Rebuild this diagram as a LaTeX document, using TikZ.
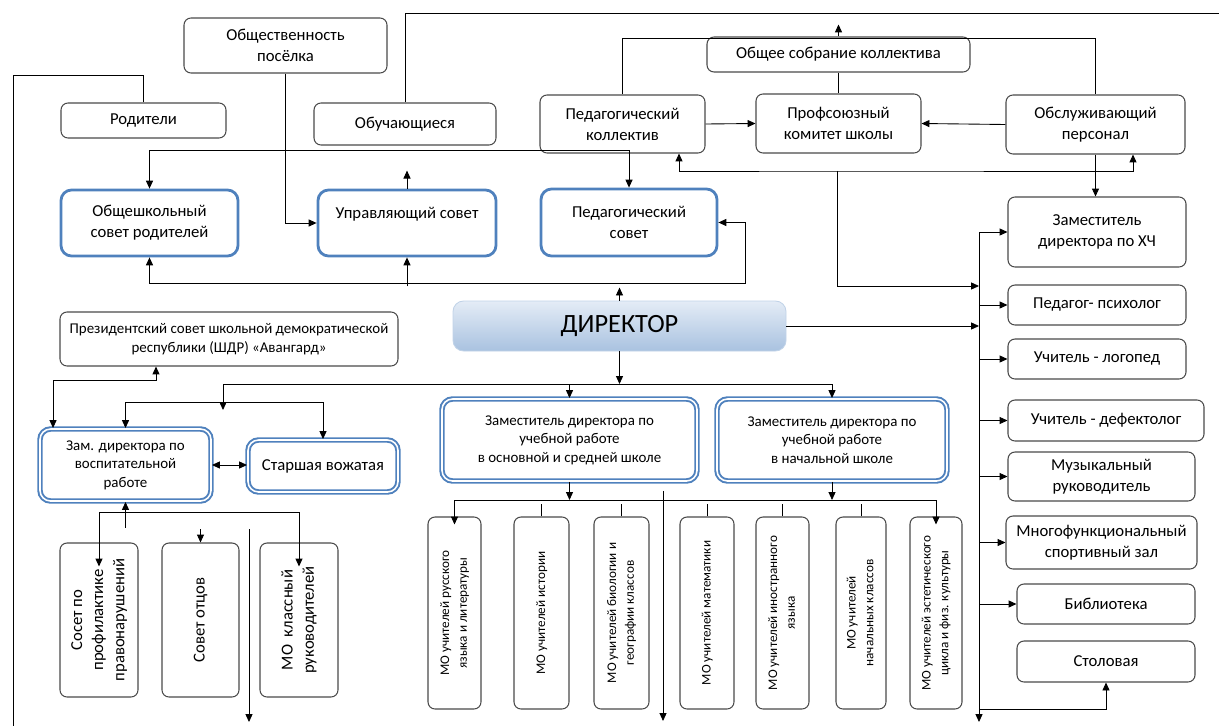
\documentclass[tikz,border=0pt]{standalone}
\usepackage{fontspec}
\setmainfont{Carlito}
\usepackage{graphicx}
\usetikzlibrary{arrows.meta, positioning, calc}
\definecolor{orgline}{HTML}{4A4A4A}
\definecolor{orgblue}{HTML}{4F81BD}
\definecolor{dirtop}{HTML}{E4ECF6}
\definecolor{dirbottom}{HTML}{A9C2E0}
\newdimen\px \px=0.02cm
\newcommand{\vtext}[1]{\rotatebox{90}{\begin{tabular}{@{}c@{}}#1\end{tabular}}}

\begin{document}
\begin{tikzpicture}[
    x=0.02cm, y=-0.02cm,
    box/.style={rectangle, rounded corners=4pt, draw=orgline, line width=0.6pt, fill=white, align=center, inner sep=1pt, font=\fontsize{9.5}{12}\selectfont},
    wh/.style 2 args={minimum width=#1*\px, minimum height=#2*\px},
    council/.style={box, draw=orgblue, line width=1.6pt, rounded corners=6pt},
    deputy/.style={box, draw=orgblue, line width=1.1pt, double=white, double distance=0.9pt, rounded corners=6pt, font=\fontsize{8.5}{10.5}\selectfont},
    mo/.style={box, font=\fontsize{7.5}{10}\selectfont},
    link/.style={line width=0.5pt},
    arrow/.style={link, -{Triangle[length=4.5pt, width=4pt]}},
    biarrow/.style={link, {Triangle[length=4.5pt, width=4pt]}-{Triangle[length=4.5pt, width=4pt]}}
]
\useasboundingbox (0,0) rectangle (1219,726);

% Community and staff
\node[box, wh={203}{55}] (public) at (285.5,45.5) {Общественность\\посёлка};
\node[box, wh={165}{35}] (parents) at (143.5,120.5) {Родители};
\node[box, wh={182}{42}] (pupils) at (405,124) {Обучающиеся};
\node[box, wh={263}{35}] (assembly) at (838.5,54.5) {Общее собрание коллектива};
\node[box, wh={165}{58}] (teachers) at (622.5,124) {Педагогический\\коллектив};
\node[box, wh={165}{59}] (union) at (838.5,123.5) {Профсоюзный\\комитет школы};
\node[box, wh={179}{59}] (service) at (1095.5,124.5) {Обслуживающий\\персонал};

% Councils
\node[council, wh={177}{66}] (parentcouncil) at (149.5,223) {Общешкольный\\совет родителей};
\node[council, wh={178}{66}] (board) at (407,223) {Управляющий совет\\\mbox{}};
\node[council, wh={176}{67}] (pedcouncil) at (629,222.5) {Педагогический\\совет};

% Director
\node[box, wh={333}{50}, draw=orgblue!35, line width=0.5pt, top color=dirtop, bottom color=dirbottom, rounded corners=6pt, font=\fontsize{15}{18}\selectfont] (director) at (619.5,326) {ДИРЕКТОР};
\node[box, wh={338}{54}, font=\fontsize{8.5}{11}\selectfont] (president) at (229,339) {Президентский совет школьной демократической\\республики (ШДР) «Авангард»};

% Deputies
\node[deputy, wh={171}{72}] (edudep) at (125.5,465) {Зам. директора по\\воспитательной\\работе};
\node[deputy, wh={150}{52}, font=\fontsize{9.5}{12}\selectfont] (leader) at (323,466) {Старшая вожатая};
\node[deputy, wh={255}{82}] (seniordep) at (569.5,440) {Заместитель директора по\\учебной работе\\в основной и средней школе};
\node[deputy, wh={230}{82}] (primarydep) at (832,440) {Заместитель директора по\\учебной работе\\в начальной школе};

% Educational work groups
\node[box, wh={78}{154}] (prevention) at (99,620) {\vtext{Сосет по\\профилактике\\правонарушений}};
\node[box, wh={77}{154}] (fathers) at (200.5,620) {\vtext{Совет отцов}};
\node[box, wh={78}{154}] (classmo) at (299,620) {\vtext{МО~ классный\\руководителей}};

% Subject groups
\node[mo, wh={53}{192}] (mo1) at (454.5,613) {\vtext{МО учителей русского\\языка и литературы}};
\node[mo, wh={55}{192}] (mo2) at (541.5,613) {\vtext{МО учителей истории}};
\node[mo, wh={55}{192}] (mo3) at (621.5,613) {\vtext{МО учителей биологии и\\географии классов}};
\node[mo, wh={54}{192}] (mo4) at (707,613) {\vtext{МО учителей математики}};
\node[mo, wh={53}{192}] (mo5) at (782.5,613) {\vtext{МО учителей иностранного\\языка}};
\node[mo, wh={50}{192}] (mo6) at (861,613) {\vtext{МО учителей\\начальных классов}};
\node[mo, wh={52}{192}] (mo7) at (936,613) {\vtext{МО учителей эстетического\\цикла и физ. культуры}};

% Specialists
\node[box, wh={178}{70}] (ahch) at (1097,232) {Заместитель\\директора по ХЧ};
\node[box, wh={178}{40}] (psych) at (1097,305) {Педагог- психолог};
\node[box, wh={178}{40}] (logoped) at (1097,359) {Учитель - логопед};
\node[box, wh={196}{41}] (defect) at (1106,420.5) {Учитель - дефектолог};
\node[box, wh={187}{49}] (music) at (1101.5,476.5) {Музыкальный\\руководитель};
\node[box, wh={191}{53}] (sport) at (1101.5,542.5) {Многофункциональный\\спортивный зал};
\node[box, wh={178}{40}] (library) at (1106,604) {Библиотека};
\node[box, wh={178}{41}] (canteen) at (1106,661.5) {Столовая};

% Free ends
\coordinate (leftrail) at (13,726);
\coordinate (toprail) at (1219,13);
\coordinate (unionfork) at (837,171);
\coordinate (busin) at (979,286);
\coordinate (dbus) at (619.5,384);
\coordinate (leftdrop) at (249,529);
\coordinate (rbus) at (979,232);
\coordinate (rbusturn) at (979,709);
\coordinate (rbusend) at (979,722);

% Top connectors
\draw[link] (parents.north) -- ++(0,-27) -| (leftrail);
\draw[link] (pupils.north) |- (toprail);
\draw[arrow] (public.south) |- (board.west);
\draw[arrow] (board.north) -- ++(0,-18);
\draw[arrow] (assembly.north) -- ++(0,-12);
\draw[link] (assembly.south) -- (union.north);
\draw[link] (teachers.north) -- ++(0,-56) -| (service.north);
\draw[arrow] (teachers.east) -- (union.west);
\draw[arrow] (service.west) -- (union.east);
\draw[biarrow] ($(teachers.south)+(56.5,0)$) |- (unionfork) -| ($(service.south)+(37.5,0)$);
\draw[arrow] (unionfork) |- (busin);
\draw[arrow] (service.south) -- (service.south |- ahch.north);

% Councils
\draw[biarrow] (parentcouncil.north) -- ++(0,-38) -| (pedcouncil.north);
\draw[biarrow] (parentcouncil.south) -- ++(0,26) -- ++(595.5,0) |- (pedcouncil.east);
\draw[arrow] ($(board.south)+(0,29)$) -- (board.south);

% Director
\draw[arrow] (director.north) -- ++(0,-13);
\draw[arrow] (director.east) -- (director.east -| rbus);
\draw[arrow] (director.south) -- (dbus);
\draw[arrow] (dbus) -| (seniordep.north);
\draw[arrow] (dbus) -| (primarydep.north);
\draw[arrow] (dbus) -| ($(dbus)+(-396.5,26)$);

% Educational work
\draw[biarrow] (edudep.north) -- ++(0,-26) -| (leader.north);
\draw[biarrow] ($(edudep.north west)+(14,0)$) -- ++(0,-48) -| ($(president.south)+(-73,0)$);
\draw[biarrow] (edudep.east) -- (edudep.east -| leader.west);
\draw[arrow] ($(edudep.south)+(0,26)$) -- (edudep.south);
\draw[biarrow] ($(prevention.north)+(0,24)$) -- ++(0,-54) -| ($(classmo.north)+(0,24)$);
\draw[arrow] ($(fathers.north)+(0,-13)$) -- (fathers.north);
\draw[arrow] (leftdrop) -- ++(0,193);

% Subject groups
\draw[arrow] (seniordep.south) -- ++(0,18);
\draw[arrow] (primarydep.south) -- ++(0,18);
\draw[biarrow] ($(mo1.north)+(0,8)$) -- ++(0,-24) -| ($(mo7.north)+(0,8)$);
\foreach \m in {mo2,mo3,mo4,mo5,mo6}
    \draw[link] (\m.north) -- ++(0,-12);
\draw[arrow] ($(seniordep.south)+(93.5,9)$) -- ++(0,230);

% Specialists
\draw[arrow] (rbus) -- (rbusend);
\foreach \r in {ahch,psych,logoped,defect,music,sport,library}
    \draw[arrow] (\r.west -| rbus) -- (\r.west);
\draw[arrow] (rbusturn) -| (canteen.south);

\end{tikzpicture}
\end{document}
